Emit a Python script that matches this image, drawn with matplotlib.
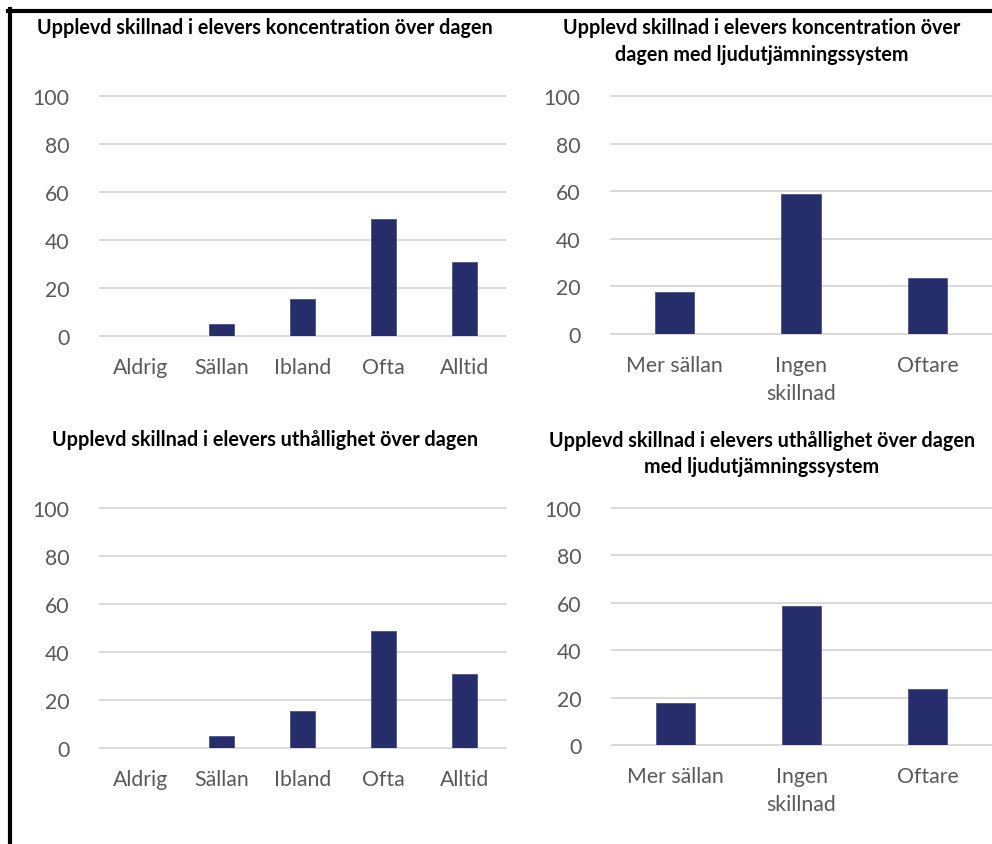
import matplotlib
matplotlib.use("Agg")
import matplotlib.pyplot as plt
from matplotlib.lines import Line2D

# ---- data ----
cats_freq = ["Aldrig", "Sällan", "Ibland", "Ofta", "Alltid"]
cats_change = ["Mer sällan", "Ingen\nskillnad", "Oftare"]
konc_values = [0, 5.1, 15.4, 48.7, 30.8]
konc_sys_values = [17.6, 58.8, 23.5]
uth_values = [0, 5.1, 15.4, 48.7, 30.8]
uth_sys_values = [17.6, 58.8, 23.5]
yticks = [0, 20, 40, 60, 80, 100]

titles = [
    "Upplevd skillnad i elevers koncentration över dagen",
    "Upplevd skillnad i elevers koncentration över\ndagen med ljudutjämningssystem",
    "Upplevd skillnad i elevers uthållighet över dagen",
    "Upplevd skillnad i elevers uthållighet över dagen\nmed ljudutjämningssystem",
]

W, H = 992, 845
BAR = "#252E6B"
GRID = "#D9D9D9"
TXT = "#595959"

fig = plt.figure(figsize=(W / 100, H / 100), dpi=100)
fig.patch.set_facecolor("white")


def px_axes(x0, y0, x1, y1):
    return fig.add_axes([x0 / W, 1 - y1 / H, (x1 - x0) / W, (y1 - y0) / H])


def draw(ax, cats, vals):
    xs = list(range(len(cats)))
    ax.bar(xs, vals, width=0.31, color=BAR, edgecolor="#4A5290", linewidth=0.6, zorder=3)
    ax.set_xlim(-0.5, len(cats) - 0.5)
    ax.set_ylim(0, 100)
    ax.set_yticks(yticks)
    ax.set_xticks(xs)
    ax.set_xticklabels(cats, linespacing=1.5)
    for s in ax.spines.values():
        s.set_visible(False)
    ax.yaxis.grid(True, color=GRID, linewidth=1.4, zorder=0)
    ax.set_axisbelow(True)
    ax.tick_params(axis="both", length=0, labelsize=15.3, labelcolor=TXT, pad=15)
    ax.tick_params(axis="y", pad=22)
    for lab in ax.get_xticklabels() + ax.get_yticklabels():
        lab.set_fontfamily("Lato")
    for ln in ax.get_ygridlines():
        ln.set_clip_on(False)


ax1 = px_axes(100, 97, 505, 337)
draw(ax1, cats_freq, konc_values)
ax2 = px_axes(611, 97, 991, 335)
draw(ax2, cats_change, konc_sys_values)
ax3 = px_axes(100, 509, 505, 749)
draw(ax3, cats_freq, uth_values)
ax4 = px_axes(612, 509, 991, 746)
draw(ax4, cats_change, uth_sys_values)

# titles
tpos = [(265, 28), (762, 41.5), (265, 440), (762, 454)]
for t, (x, y) in zip(titles, tpos):
    fig.text(x / W, 1 - y / H, t, ha="center", va="center", fontsize=14.2,
             fontweight="bold", family="Lato", color="black",
             linespacing=1.4)

# border lines (left and top)
fig.add_artist(Line2D([9.5 / W, 9.5 / W], [0, 1 - 10 / H], color="black", linewidth=3,
                      transform=fig.transFigure))
fig.add_artist(Line2D([8 / W, 1], [1 - 12 / H, 1 - 12 / H], color="black", linewidth=3,
                      transform=fig.transFigure))

fig.savefig("out.png", dpi=100, facecolor="white")
